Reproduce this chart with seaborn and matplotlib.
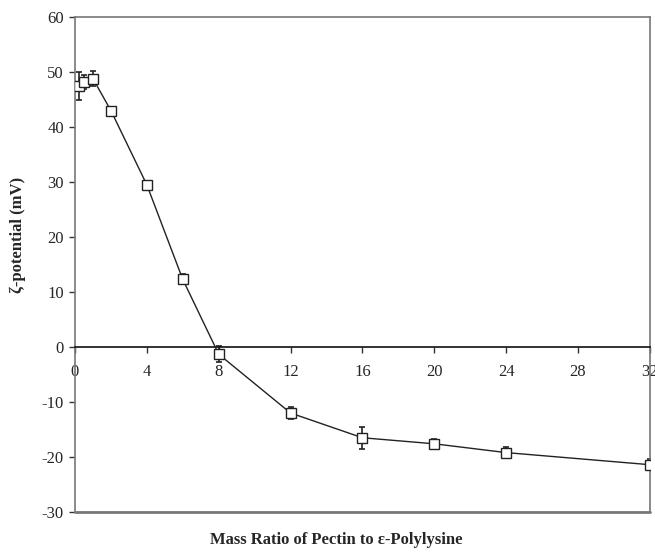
import matplotlib
matplotlib.use("Agg")
import matplotlib.pyplot as plt
import pandas as pd
import seaborn as sns

# Zeta potential vs mass ratio
mass_ratio = [0.25, 0.5, 1, 2, 4, 6, 8, 12, 16, 20, 24, 32]
zeta_mv = [47.5, 48.2, 48.8, 43.0, 29.5, 12.3, -1.3, -12.0, -16.5, -17.6, -19.2, -21.4]
zeta_err = [2.5, 1.3, 1.4, 0.5, 0.4, 0.9, 1.5, 1.1, 2.0, 0.9, 1.0, 1.0]
x_ticks = [0, 4, 8, 12, 16, 20, 24, 28, 32]
y_ticks = [-30, -20, -10, 0, 10, 20, 30, 40, 50, 60]

df = pd.DataFrame({"ratio": mass_ratio, "zeta": zeta_mv, "err": zeta_err})

sns.set_style("white")
plt.rcParams["font.family"] = ["Liberation Serif", "DejaVu Serif"]
plt.rcParams["axes.unicode_minus"] = False

fig = plt.figure(figsize=(6.55, 5.52), dpi=100)
ax = fig.add_axes([0.1145, 0.0725, 0.8775, 0.8965])

ax.errorbar(df["ratio"], df["zeta"], yerr=df["err"], fmt="none",
            ecolor="#222222", elinewidth=1.2, capsize=2.5, capthick=1.2, zorder=2)
sns.lineplot(data=df, x="ratio", y="zeta", ax=ax, color="#222222", linewidth=1.0,
             marker="s", markersize=6.5, markerfacecolor="white",
             markeredgecolor="#222222", markeredgewidth=1.0, zorder=3)

ax.set_xlim(0, 32)
ax.set_ylim(-30, 60)
ax.set_xticks(x_ticks)
ax.set_yticks(y_ticks)

# x axis sits at zero, frame drawn around the plot
ax.spines["bottom"].set_position(("data", 0))
ax.spines["bottom"].set_color("#111111")
ax.spines["bottom"].set_linewidth(1.2)
for side in ["left", "right", "top"]:
    ax.spines[side].set_visible(True)
    ax.spines[side].set_color("#777777")
    ax.spines[side].set_linewidth(1.2)
ax.axhline(-30, color="#777777", linewidth=2.0, clip_on=False, zorder=1)

ax.tick_params(axis="x", direction="out", length=4, width=1, color="#333333",
               bottom=True, labelsize=12, pad=8)
ax.tick_params(axis="y", direction="out", length=4, width=1, color="#333333",
               left=True, labelsize=12, pad=4)

ax.set_xlabel("Mass Ratio of Pectin to ε-Polylysine", fontsize=12, fontweight="bold")
ax.xaxis.set_label_coords(0.455, -0.04)
ax.set_ylabel("ζ-potential (mV)", fontsize=12, fontweight="bold")
ax.yaxis.set_label_coords(-0.085, 0.56)

fig.savefig("out.png", dpi=100)
